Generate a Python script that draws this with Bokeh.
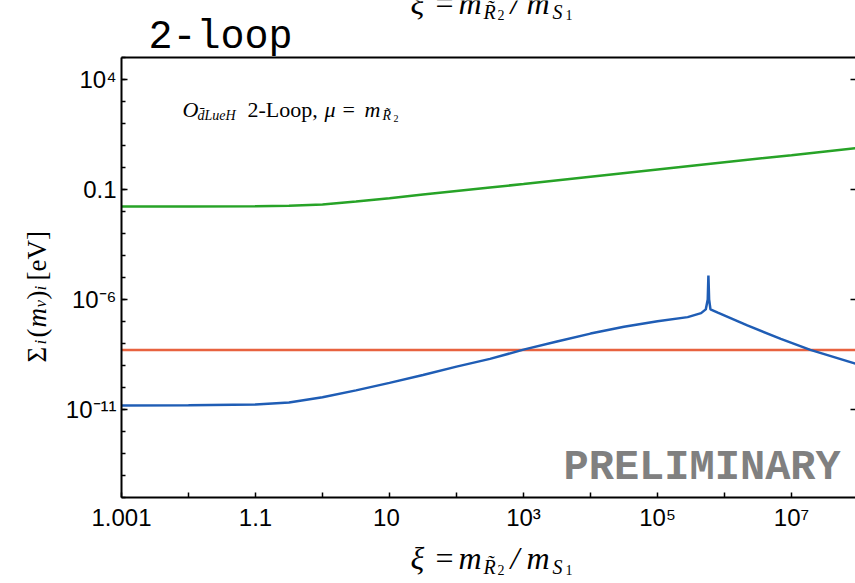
from bokeh.plotting import figure
from bokeh.models import Label, FixedTicker, LogAxis, Range1d
from bokeh.embed import file_html
from bokeh.resources import INLINE

# ---- data (x = xi - 1, plotted on a log axis) ----
green_x = [1e-3, 1e-2, 0.1, 0.316, 1, 3.16, 10, 31.6, 100, 316, 1e3, 1e4, 1e5, 1e6, 1e7, 9.12e7]
green_y = [0.0170, 0.0170, 0.0174, 0.0182, 0.0209, 0.0282, 0.0398, 0.0589, 0.0851, 0.123,
           0.178, 0.380, 0.813, 1.74, 3.63, 7.59]

red_x = [1e-3, 9.12e7]
red_y = [5.0e-9, 5.0e-9]

blue_x = [1e-3, 1e-2, 0.1, 0.316, 1, 3.16, 10, 31.6, 100, 316, 1e3, 3.16e3, 1e4, 3.16e4,
          1e5, 2.82e5, 4.47e5, 5.25e5, 5.62e5, 5.75e5, 5.89e5, 6.17e5, 7.94e5, 2.19e6,
          6.92e6, 1.91e7, 9.12e7]
blue_y = [1.51e-11, 1.55e-11, 1.70e-11, 2.09e-11, 3.63e-11, 7.41e-11, 1.62e-10, 3.72e-10,
          8.91e-10, 2.00e-9, 5.25e-9, 1.23e-8, 2.82e-8, 5.75e-8, 1.02e-7, 1.58e-7, 2.40e-7,
          3.55e-7, 1.0e-6, 1.23e-5, 1.0e-6, 3.55e-7, 2.51e-7, 6.61e-8, 1.62e-8, 5.13e-9, 1.20e-9]

x_tick_xi = [1.001, 1.1, 10, 1e3, 1e5, 1e7]
x_tick_labels = ["1.001", "1.1", "10", "10³", "10⁵", "10⁷"]
x_minor_ticks = [1e-3, 1e-2, 1e-1, 1, 1e1, 1e2, 1e3, 1e4, 1e5, 1e6, 1e7]

y_ticks = [1e4, 0.1, 1e-6, 1e-11]
y_tick_labels = ["10⁴", "0.1", "10⁻⁶", "10⁻¹¹"]
y_minor_ticks = [10.0 ** k for k in range(-15, 6)]

# plot box limits (data units)
X_LO, X_HI = 1e-3, 1e8
Y_LO, Y_HI = 1e-15, 1e5

GREEN = "#27a327"
RED = "#e8623f"
BLUE = "#1f5db5"

W, H = 855, 583

# The frame covers the whole canvas; the axes are drawn at fixed locations
p = figure(width=W, height=H, x_axis_type="log", y_axis_type="log",
           x_range=Range1d(10 ** -4.806, 10 ** 7.955),
           y_range=Range1d(10 ** -18.909, 10 ** 7.591),
           output_backend="svg", toolbar_location=None,
           min_border_left=0, min_border_right=0, min_border_top=0, min_border_bottom=0)
p.outline_line_color = None
p.xgrid.visible = False
p.ygrid.visible = False
p.background_fill_color = "white"
p.border_fill_color = "white"

p.line(green_x, green_y, line_color=GREEN, line_width=2.5)
p.line(red_x, red_y, line_color=RED, line_width=2.5)
p.line(blue_x, blue_y, line_color=BLUE, line_width=2.5)

# bottom axis
xpos = [round(v - 1, 12) for v in x_tick_xi]
xa = p.xaxis[0]
xa.fixed_location = Y_LO
xa.bounds = (X_LO, X_HI)
xa.ticker = FixedTicker(ticks=xpos, minor_ticks=x_minor_ticks)
xa.major_label_overrides = {k: lab for k, lab in zip(xpos, x_tick_labels)}
xa.major_tick_in = 0
xa.major_tick_out = 0
xa.minor_tick_in = 5
xa.minor_tick_out = 0
xa.minor_tick_line_width = 1.5
xa.axis_line_width = 2
xa.axis_line_color = "black"
xa.major_label_text_font = "Liberation Sans"
xa.major_label_text_font_size = "24px"
xa.major_label_text_color = "black"
xa.major_label_standoff = 6

# left axis
ya = p.yaxis[0]
ya.fixed_location = X_LO
ya.bounds = (Y_LO, Y_HI)
ya.ticker = FixedTicker(ticks=y_ticks, minor_ticks=y_minor_ticks)
ya.major_label_overrides = {k: lab for k, lab in zip(y_ticks, y_tick_labels)}
ya.major_tick_in = 6
ya.major_tick_out = 0
ya.minor_tick_in = 4
ya.minor_tick_out = 0
ya.major_tick_line_width = 1.5
ya.minor_tick_line_width = 1.5
ya.axis_line_width = 2
ya.axis_line_color = "black"
ya.major_label_text_font = "Liberation Sans"
ya.major_label_text_font_size = "24px"
ya.major_label_text_color = "black"
ya.major_label_standoff = 5

# right axis: ticks only
ra = LogAxis(ticker=FixedTicker(ticks=y_ticks, minor_ticks=[]), axis_line_color=None,
             fixed_location=X_HI, bounds=(Y_LO, Y_HI),
             major_tick_in=8, major_tick_out=0, major_tick_line_width=1.5,
             minor_tick_in=0, minor_tick_out=0,
             major_label_overrides={k: "" for k in y_ticks},
             major_label_text_font_size="1px", major_label_standoff=0)
p.add_layout(ra, "right")

# top axis: frame line only
ta = LogAxis(ticker=FixedTicker(ticks=[1.0], minor_ticks=[]), axis_line_width=2,
             fixed_location=Y_HI, bounds=(X_LO, X_HI),
             axis_line_color="black", major_tick_in=0, major_tick_out=0,
             minor_tick_in=0, minor_tick_out=0,
             major_label_overrides={1.0: ""},
             major_label_text_font_size="1px", major_label_standoff=0)
p.add_layout(ta, "above")


def lab(text, px, py, size, font="Liberation Serif", style="normal", color="black", angle=0.0):
    # px, py: page pixels of the text's left baseline point
    p.add_layout(Label(x=px, y=H - py, x_units="screen", y_units="screen",
                       text=text, text_font=font, text_font_size=f"{size}px",
                       text_font_style=style, text_color=color, angle=angle,
                       text_baseline="alphabetic", text_align="left"))


def xi_label(dy):
    lab("ξ", 410, 557 + dy, 32, style="italic")
    lab("=", 435, 557 + dy, 32)
    lab("m", 458, 557 + dy, 32, style="italic")
    lab("R̃", 483, 566 + dy, 20, style="italic")
    lab("2", 497, 569 + dy, 14)
    lab("/", 510, 557 + dy, 32, style="italic")
    lab("m", 526, 557 + dy, 32, style="italic")
    lab("S", 552, 566 + dy, 20, style="italic")
    lab("1", 565, 569 + dy, 14)


# remnant of the panel above (cut at the top edge)
xi_label(-555)

# top-left heading
lab("2-loop", 148, 37, 40, font="Liberation Mono")

# annotation inside
lab("O", 182, 109, 22, style="italic")
lab("d̄LueH", 197, 115, 14, style="italic")
lab("2-Loop,", 247, 109, 22)
lab("μ", 324, 109, 22, style="italic")
lab("=", 342, 109, 22)
lab("m", 364, 109, 22, style="italic")
lab("R̃", 382, 115, 14, style="italic")
lab("2", 393, 118, 10)

# PRELIMINARY
lab("PRELIMINARY", 563, 467, 42, font="Liberation Mono", style="bold", color="#808080")

# x-axis label
xi_label(0)

# y-axis label (rotated, reading upward)
R = 1.5707963267948966
lab("Σ", 36, 362, 27, angle=R)
lab("i", 40, 344, 17, style="italic", angle=R)
lab("(", 36, 337, 27, angle=R)
lab("m", 36, 327, 27, style="italic", angle=R)
lab("ν", 40, 307, 17, style="italic", angle=R)
lab(")", 36, 299, 27, angle=R)
lab("i", 40, 290, 17, style="italic", angle=R)
lab("[eV]", 36, 280, 27, angle=R)

open("out.html", "w").write(file_html(p, INLINE))
